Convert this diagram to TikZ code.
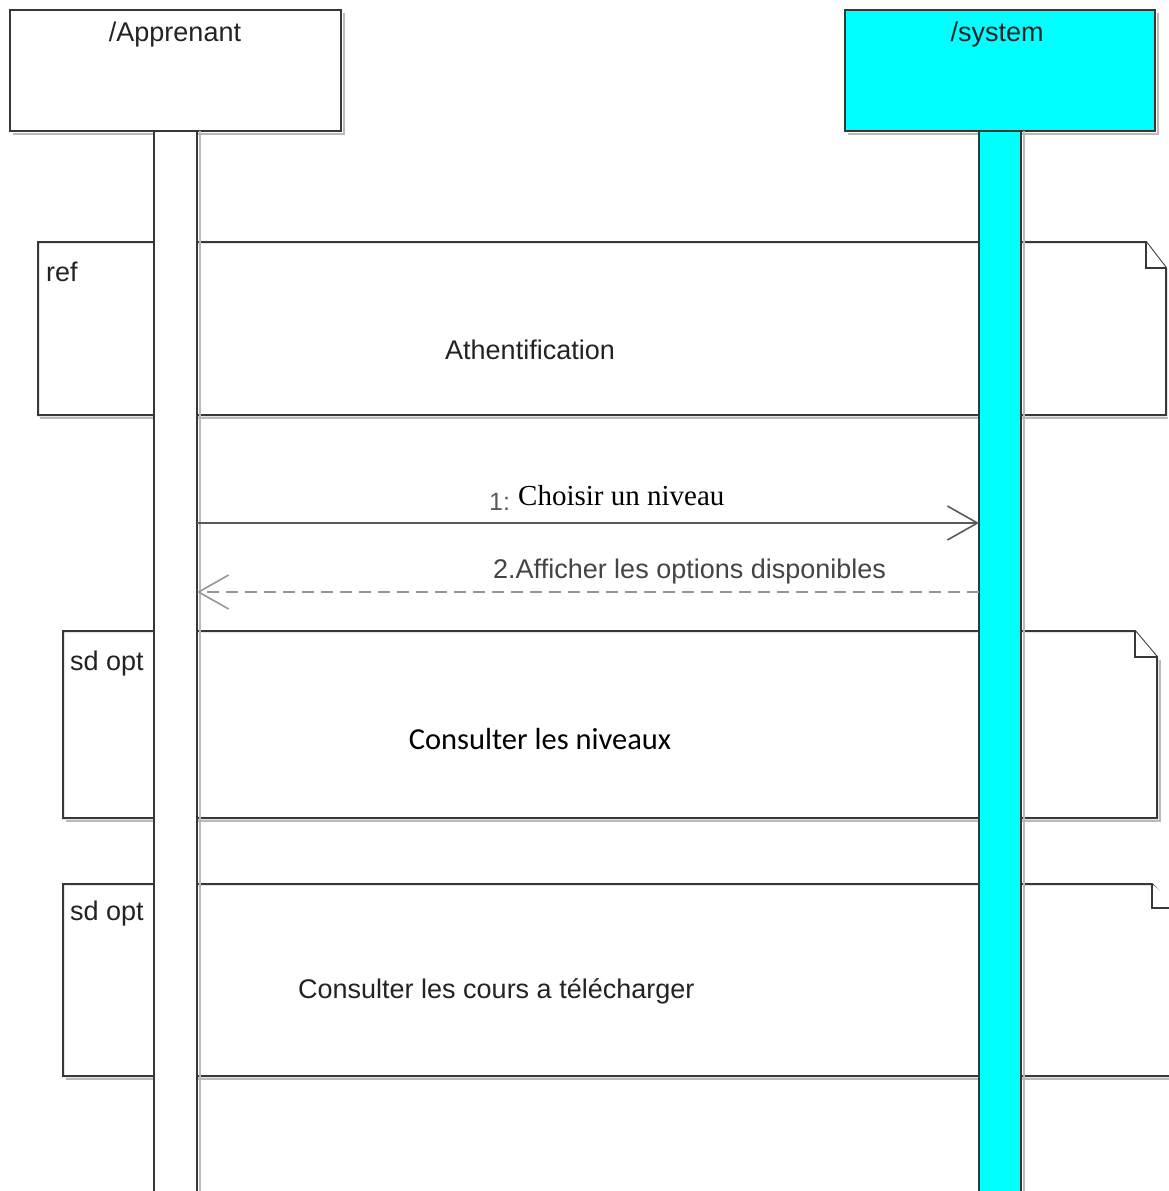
\documentclass[tikz,border=0pt]{standalone}
\usepackage{fontspec}
\setmainfont{Liberation Sans}
\newfontfamily\msgserif{Liberation Serif}
\newfontfamily\calib{Carlito}
\usetikzlibrary{arrows.meta}
\definecolor{sysCyan}{RGB}{0,255,255}
\definecolor{edge}{RGB}{55,55,55}
\definecolor{shade}{RGB}{185,185,185}
\definecolor{txt}{RGB}{35,35,35}
\definecolor{msgline}{RGB}{90,90,90}
\definecolor{replyline}{RGB}{150,150,150}
\newcommand{\fs}[1]{\fontsize{#1}{#1}\selectfont}
\begin{document}
\begin{tikzpicture}[x=1pt,y=-1pt,
  headbox/.style={draw=edge, line width=2pt, minimum width=331pt, minimum height=121pt,
    anchor=north west, inner sep=0pt, outer sep=0pt},
  actbox/.style={draw=edge, line width=2pt, minimum width=43pt, minimum height=1080pt,
    anchor=north west, inner sep=0pt, outer sep=0pt},
  frame/.style={draw=edge, line width=2pt, fill=white, line join=miter},
  shadowline/.style={draw=shade, line width=2pt},
  lbl/.style={anchor=base west, inner sep=0pt, text=txt, font=\fs{27}},
  clbl/.style={anchor=base, inner sep=0pt, text=txt, font=\fs{27}},
  msg/.style={draw=msgline, line width=1.6pt,
    -{Straight Barb[length=30pt,width=34pt,line width=1.6pt]}},
  reply/.style={draw=replyline, line width=1.6pt, dash pattern=on 12pt off 7pt,
    -{Straight Barb[length=30pt,width=34pt,line width=1.6pt]}}
]
\useasboundingbox (0,0) rectangle (1168,1191);

% lifeline heads
\draw[shadowline] (13,134) -- (344,134) -- (344,13);
\draw[shadowline] (848,134) -- (1158,134) -- (1158,13);
\node[headbox, fill=white] (headA) at (10,10) {};
\node[headbox, fill=sysCyan, minimum width=310pt] (headS) at (845,10) {};
\node[clbl] (nameA) at (175,41) {/Apprenant};
\node[clbl] (nameS) at (997,41) {/system};

% ref frame: Athentification
\draw[frame] (38,242) -- (1146,242) -- (1166,268) -- (1166,415) -- (38,415) -- cycle;
\draw[frame] (1146,242) -- (1146,268) -- (1166,268);
\draw[shadowline] (40,418) -- (1168,418);
\node[lbl] (refTag) at (46,281) {ref};
\node[clbl] (refTxt) at (530,359) {Athentification};

% first optional fragment
\draw[shadowline] (66,821) -- (1160,821) -- (1160,660);
\draw[frame] (63,631) -- (1135,631) -- (1157,657) -- (1157,818) -- (63,818) -- cycle;
\draw[frame] (1135,631) -- (1135,657) -- (1157,657);
\node[lbl] (optTagA) at (70,670) {sd opt};
\node[anchor=base, inner sep=0pt, text=black, font=\calib\fs{30.5}] (optTxtA) at (540,749) {Consulter les niveaux};

% second optional fragment
\draw[shadowline] (66,1079) -- (1180,1079);
\draw[frame] (63,884) -- (1152,884) -- (1174,908) -- (1180,908) -- (1180,1076) -- (63,1076) -- cycle;
\draw[frame] (1152,884) -- (1152,908) -- (1180,908);
\node[lbl] (optTagB) at (70,920) {sd opt};
\node[lbl] (optTxtB) at (298,998) {Consulter les cours a télécharger};

% activation bars
\draw[shadowline] (200,131) -- (200,1200);
\draw[shadowline] (1024,131) -- (1024,1200);
\node[actbox, fill=white] (actA) at (154,131) {};
\node[actbox, fill=sysCyan, minimum width=42pt] (actS) at (979,131) {};

% messages
\draw[msg] (actA.east |- 0,523) -- (actS.west |- 0,523);
\node[anchor=base west, inner sep=0pt, text=msgline, font=\fs{25}] (m1num) at (489,510) {1:};
\node[anchor=base west, inner sep=0pt, text=black, font=\msgserif\fs{29}] (m1txt) at (518,505) {Choisir un niveau};
\draw[reply] (actS.west |- 0,592) -- (actA.east |- 0,592);
\node[anchor=base west, inner sep=0pt, text=txt!85, font=\fs{27}] (m2txt) at (493,578) {2.Afficher les options disponibles};
\end{tikzpicture}
\end{document}
